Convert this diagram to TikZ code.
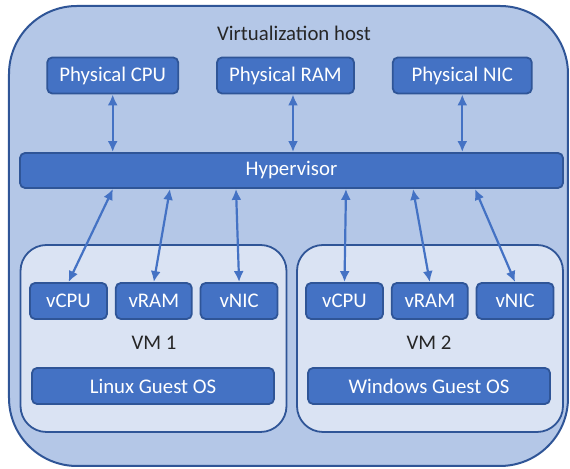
\documentclass[tikz,border=0pt]{standalone}
\usepackage{fontspec}
\setmainfont{Carlito}
\usetikzlibrary{arrows.meta,positioning}

\definecolor{hostfill}{HTML}{B4C7E7}
\definecolor{edgeblue}{HTML}{2F5597}
\definecolor{partblue}{HTML}{4472C4}
\definecolor{vmfill}{HTML}{DAE3F3}

\begin{document}
\begin{tikzpicture}[
    x=0.5pt, y=-0.5pt,
    font=\fontsize{10.4}{12.5}\selectfont,
    node distance=3.5pt,
    hostbox/.style={draw=edgeblue, line width=1pt, rounded corners=34pt, fill=hostfill, minimum width=279.5pt, minimum height=230pt},
    vmbox/.style={draw=edgeblue, line width=0.9pt, rounded corners=13pt, fill=vmfill, minimum width=133pt, minimum height=93.5pt},
    part/.style={draw=edgeblue, line width=0.9pt, rounded corners=2.5pt, fill=partblue, text=white, inner sep=0pt, minimum height=18pt},
    label/.style={text=black!85},
    link/.style={{Latex[length=5.5pt,width=5pt]}-{Latex[length=5.5pt,width=5pt]}, line width=1.1pt, draw=partblue}
]
    \useasboundingbox (0,0) rectangle (570,469);

    % host and virtual machines
    \node[hostbox] (host) at (288.5,236) {};
    \node[label] (title) at (294,33) {Virtualization host};
    \node[vmbox] (vm1) at (153.5,338.5) {};
    \node[vmbox] (vm2) at (430,338.5) {};

    % physical hardware
    \node[part, minimum width=68.5pt] (pram) at (285.5,75.5) {Physical RAM};
    \node[part, minimum width=65.5pt, left=18.5pt of pram] (pcpu) {Physical CPU};
    \node[part, minimum width=69.5pt, right=18.5pt of pram] (pnic) {Physical NIC};
    \node[part, minimum width=271.5pt, minimum height=17.5pt] (hyp) at (291.5,170.5) {Hypervisor};

    % VM 1
    \node[part, minimum width=38.5pt] (vcpuA) at (68.5,301) {vCPU};
    \node[part, minimum width=38pt, right=of vcpuA] (vramA) {vRAM};
    \node[part, minimum width=38.5pt, right=of vramA] (vnicA) {vNIC};
    \node[label] (vmlabelA) at (154,343) {VM 1};
    \node[part, minimum width=121pt] (osA) at (153,386) {Linux Guest OS};

    % VM 2
    \node[part, minimum width=38.5pt] (vcpuB) at (344.5,301) {vCPU};
    \node[part, minimum width=38pt, right=of vcpuB] (vramB) {vRAM};
    \node[part, minimum width=38.5pt, right=of vramB] (vnicB) {vNIC};
    \node[label] (vmlabelB) at (429,343) {VM 2};
    \node[part, minimum width=121pt] (osB) at (429,386) {Windows Guest OS};

    \draw[link] (pcpu) -- (pcpu |- hyp.north);
    \draw[link] (pram.south -| 293,0) -- (hyp.north -| 293,0);
    \draw[link] (pnic) -- (pnic |- hyp.north);

    \draw[link] (hyp.south -| 113,0) -- (vcpuA.north);
    \draw[link] (hyp.south -| 170,0) -- (vramA.north);
    \draw[link] (hyp.south -| 236,0) -- (vnicA.north);
    \draw[link] (hyp.south -| 346,0) -- (vcpuB.north);
    \draw[link] (hyp.south -| 413,0) -- (vramB.north);
    \draw[link] (hyp.south -| 475,0) -- (vnicB.north);
\end{tikzpicture}
\end{document}
